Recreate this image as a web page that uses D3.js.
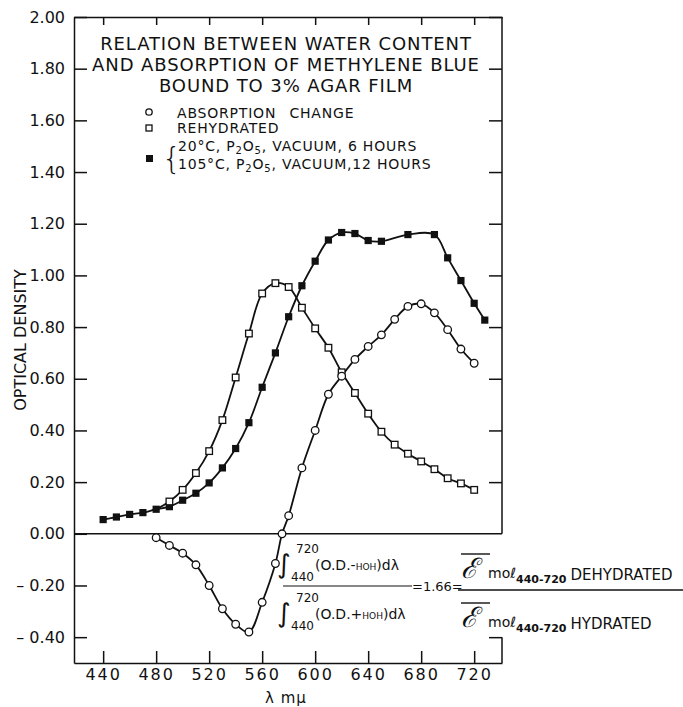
<!DOCTYPE html>
<html>
<head>
<meta charset="utf-8">
<script src="https://cdn.jsdelivr.net/npm/d3@7"></script>
<style>
  body { margin: 0; background: #fff; }
  svg text { font-family: "DejaVu Sans", sans-serif; fill: #111; }
  .axis path, .axis line { stroke: #111; stroke-width: 1.5; }
</style>
</head>
<body>
<svg id="chart" width="683" height="707"></svg>
<script>
// ── Data ─────────────────────────────────────────────────────────────────────

const xTicks = [440, 480, 520, 560, 600, 640, 680, 720];
const yTicks = [2.0, 1.8, 1.6, 1.4, 1.2, 1.0, 0.8, 0.6, 0.4, 0.2, 0.0, -0.2, -0.4];

// open circles: absorption change
const changeWl = [480, 490, 500, 510, 520, 530, 540, 550, 560, 570, 575, 580, 590, 600,
  610, 620, 630, 640, 650, 660, 670, 680, 690, 700, 710, 720];
const changeOD = [-0.015, -0.045, -0.075, -0.12, -0.2, -0.29, -0.35, -0.38, -0.265, -0.115, 0.0, 0.07, 0.255, 0.4,
  0.54, 0.61, 0.675, 0.725, 0.77, 0.83, 0.88, 0.89, 0.855, 0.79, 0.715, 0.66];

// open squares: rehydrated
const rehydWl = [480, 490, 500, 510, 520, 530, 540, 550, 560, 570, 580, 590, 600,
  610, 620, 630, 640, 650, 660, 670, 680, 690, 700, 710, 720];
const rehydOD = [0.095, 0.125, 0.17, 0.235, 0.32, 0.44, 0.605, 0.775, 0.93, 0.97, 0.955, 0.875, 0.795,
  0.72, 0.625, 0.545, 0.465, 0.395, 0.345, 0.31, 0.28, 0.25, 0.215, 0.195, 0.17];

// filled squares: dehydrated
const dehydWl = [440, 450, 460, 470, 480, 490, 500, 510, 520, 530, 540, 550, 560, 570, 580, 590, 600,
  610, 620, 630, 640, 650, 670, 690, 700, 710, 720, 728];
const dehydOD = [0.055, 0.065, 0.075, 0.082, 0.095, 0.105, 0.13, 0.157, 0.197, 0.255, 0.33, 0.43, 0.567, 0.70, 0.84, 0.96, 1.055,
  1.137, 1.166, 1.162, 1.135, 1.132, 1.158, 1.158, 1.068, 0.98, 0.892, 0.827];

const titleLines = [
  "RELATION BETWEEN WATER CONTENT",
  "AND ABSORPTION OF METHYLENE BLUE",
  "BOUND TO 3% AGAR FILM",
];

// ── Scales ───────────────────────────────────────────────────────────────────

const plotLeft = 74, plotRight = 502, plotTop = 17, plotBottom = 663;
const x = d3.scaleLinear().domain([418, 741]).range([plotLeft, plotRight]);
const y = d3.scaleLinear().domain([-0.5, 2.0]).range([plotBottom, plotTop]);

const svg = d3.select("#chart");

const zip = (wl, od) => wl.map((w, i) => ({ wl: w, od: od[i] }));
const change = zip(changeWl, changeOD);
const rehyd = zip(rehydWl, rehydOD);
const dehyd = zip(dehydWl, dehydOD);

// ── Axes / frame ─────────────────────────────────────────────────────────────

const fmtY = (v) => (v < 0 ? "\u2013 " + Math.abs(v).toFixed(2) : v.toFixed(2));

svg.append("g").attr("class", "axis")
  .attr("transform", `translate(${plotLeft},0)`)
  .call(d3.axisLeft(y).tickValues(yTicks).tickSizeInner(-13).tickSizeOuter(0).tickPadding(9).tickFormat(fmtY))
  .call((g) => g.selectAll("text").attr("font-size", 16).style("font-family", "DejaVu Sans"));

svg.append("g").attr("class", "axis")
  .attr("transform", `translate(0,${plotBottom})`)
  .call(d3.axisBottom(x).tickValues(xTicks).tickSizeInner(-12).tickSizeOuter(0).tickPadding(6).tickFormat(d3.format("d")))
  .call((g) => g.selectAll("text").attr("font-size", 16).attr("letter-spacing", 2).style("font-family", "DejaVu Sans"));

svg.append("g").attr("class", "axis")
  .attr("transform", `translate(0,${plotTop})`)
  .call(d3.axisTop(x).tickValues(xTicks).tickSizeInner(-8).tickSizeOuter(0).tickFormat(""));

svg.append("g").attr("class", "axis")
  .attr("transform", `translate(${plotRight},0)`)
  .call(d3.axisRight(y).tickValues(yTicks.filter((v) => v !== -0.2 && v !== 0)).tickSizeInner(-13).tickSizeOuter(0).tickFormat(""))
  .call((g) => g.select(".domain").remove());

// right border, broken where the formula crosses it
const frame = svg.append("g").attr("stroke", "#111").attr("stroke-width", 1.5);
frame.append("line").attr("x1", plotRight).attr("x2", plotRight).attr("y1", y(2.0)).attr("y2", y(0));
frame.append("line").attr("x1", plotRight).attr("x2", plotRight).attr("y1", y(-0.4)).attr("y2", y(-0.5));
frame.append("line").attr("x1", plotLeft).attr("x2", plotRight).attr("y1", y(0)).attr("y2", y(0));

// axis titles
svg.append("text")
  .attr("transform", `translate(26,${y(0.75)}) rotate(-90)`)
  .attr("text-anchor", "middle").attr("font-size", 16)
  .text("OPTICAL DENSITY");

svg.append("text")
  .attr("x", x(578)).attr("y", 703)
  .attr("text-anchor", "middle").attr("font-size", 15).attr("letter-spacing", 1)
  .text("\u03bb m\u03bc");

// ── Title and legend ─────────────────────────────────────────────────────────

svg.append("g").selectAll("text")
  .data(titleLines)
  .join("text")
  .attr("x", 286).attr("y", (d, i) => 50 + i * 21)
  .attr("text-anchor", "middle").attr("font-size", 18)
  .attr("letter-spacing", 0.9)
  .text((d) => d);

const legend = svg.append("g").attr("font-size", 14).attr("letter-spacing", 0.8);
legend.append("circle").attr("cx", 149).attr("cy", 112).attr("r", 3.2)
  .attr("fill", "#fff").attr("stroke", "#111").attr("stroke-width", 1.3);
legend.append("text").attr("x", 177).attr("y", 118).attr("word-spacing", 8).text("ABSORPTION CHANGE");
legend.append("rect").attr("x", 146).attr("y", 125).attr("width", 6).attr("height", 6)
  .attr("fill", "#fff").attr("stroke", "#111").attr("stroke-width", 1.3);
legend.append("text").attr("x", 177).attr("y", 133).text("REHYDRATED");
legend.append("rect").attr("x", 146).attr("y", 155).attr("width", 7).attr("height", 7).attr("fill", "#111");
legend.append("text").attr("x", 162).attr("y", 169).attr("font-size", 30).attr("letter-spacing", 0)
  .attr("font-weight", 200).text("{");

const l1 = legend.append("text").attr("x", 178).attr("y", 151);
l1.append("tspan").text("20\u00b0C, P");
l1.append("tspan").attr("dy", 3).attr("font-size", 10).text("2");
l1.append("tspan").attr("dy", -3).text("O");
l1.append("tspan").attr("dy", 3).attr("font-size", 10).text("5");
l1.append("tspan").attr("dy", -3).text(", VACUUM, 6 HOURS");

const l2 = legend.append("text").attr("x", 178).attr("y", 169);
l2.append("tspan").text("105\u00b0C, P");
l2.append("tspan").attr("dy", 3).attr("font-size", 10).text("2");
l2.append("tspan").attr("dy", -3).text("O");
l2.append("tspan").attr("dy", 3).attr("font-size", 10).text("5");
l2.append("tspan").attr("dy", -3).text(", VACUUM,12 HOURS");

// ── Curves ───────────────────────────────────────────────────────────────────

const line = d3.line()
  .x((d) => x(d.wl))
  .y((d) => y(d.od))
  .curve(d3.curveCatmullRom.alpha(0.5));

const curves = svg.append("g").attr("fill", "none").attr("stroke", "#111").attr("stroke-width", 1.8);
[change, rehyd, dehyd].forEach((s) => curves.append("path").attr("d", line(s)));

const marks = svg.append("g");
marks.selectAll(".dehyd").data(dehyd).join("rect").attr("class", "dehyd")
  .attr("x", (d) => x(d.wl) - 3.6).attr("y", (d) => y(d.od) - 3.6)
  .attr("width", 7.2).attr("height", 7.2).attr("fill", "#111");
marks.selectAll(".rehyd").data(rehyd.filter((d) => d.wl > 480)).join("rect").attr("class", "rehyd")
  .attr("x", (d) => x(d.wl) - 3.3).attr("y", (d) => y(d.od) - 3.3)
  .attr("width", 6.6).attr("height", 6.6)
  .attr("fill", "#fff").attr("stroke", "#111").attr("stroke-width", 1.3);
marks.selectAll(".change").data(change).join("circle").attr("class", "change")
  .attr("cx", (d) => x(d.wl)).attr("cy", (d) => y(d.od)).attr("r", 3.8)
  .attr("fill", "#fff").attr("stroke", "#111").attr("stroke-width", 1.3);

// ── Formula ──────────────────────────────────────────────────────────────────

const f = svg.append("g").attr("font-size", 14);

function integral(g, yTop, sign) {
  g.append("text").attr("x", 277).attr("y", yTop + 28).attr("font-size", 26).text("\u222b");
  g.append("text").attr("x", 296).attr("y", yTop + 8).attr("font-size", 12).text("720");
  g.append("text").attr("x", 291).attr("y", yTop + 36).attr("font-size", 12).text("440");
  const t = g.append("text").attr("x", 315).attr("y", yTop + 25);
  t.append("tspan").text("(O.D." + sign);
  t.append("tspan").attr("font-size", 9).text("HOH");
  t.append("tspan").text(")d\u03bb");
}
integral(f, 545, "-");
integral(f, 594, "+");

f.append("line").attr("x1", 283).attr("x2", 412).attr("y1", 586).attr("y2", 586)
  .attr("stroke", "#111").attr("stroke-width", 1.2);
f.append("text").attr("x", 412).attr("y", 591).attr("font-size", 13).text("=1.66=");
f.append("line").attr("x1", 458).attr("x2", 683).attr("y1", 590).attr("y2", 590)
  .attr("stroke", "#111").attr("stroke-width", 1.4);

function epsilon(g, base, label) {
  g.append("line").attr("x1", 461).attr("x2", 490).attr("y1", base - 24).attr("y2", base - 24)
    .attr("stroke", "#111").attr("stroke-width", 1.4);
  g.append("text").attr("x", 461).attr("y", base).attr("font-size", 28)
    .style("font-family", "DejaVu Serif").attr("font-style", "italic").text("\u2130");
  const t = g.append("text").attr("x", 488).attr("y", base);
  t.append("tspan").attr("font-size", 14).text("mo\u2113");
  t.append("tspan").attr("dy", 5).attr("font-size", 11).attr("font-weight", "bold").text("440-720");
  t.append("tspan").attr("dy", -3).attr("dx", 4).attr("font-size", 15).text(label);
}
epsilon(f, 578, "DEHYDRATED");
epsilon(f, 627, "HYDRATED");
</script>
</body>
</html>
